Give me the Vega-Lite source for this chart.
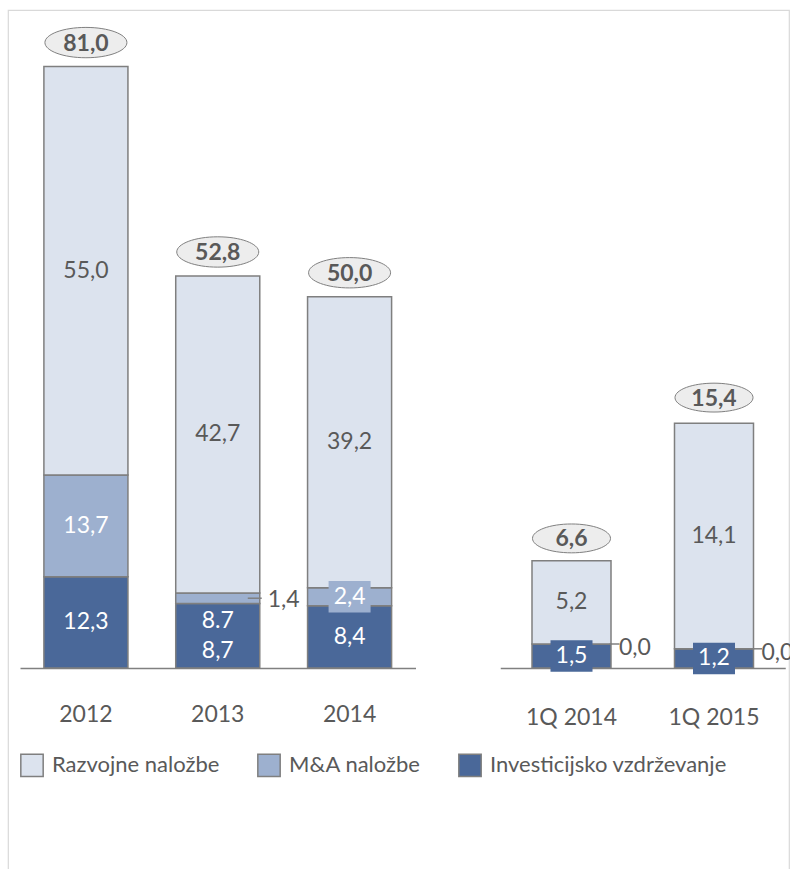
{
  "$schema": "https://vega.github.io/schema/vega-lite/v6.json",
  "width": 781,
  "height": 870,
  "padding": {"left": 8, "top": 10, "right": 0, "bottom": 0},
  "autosize": {"type": "pad"},
  "background": "white",
  "config": {
    "view": {"stroke": "#D9D9D9", "strokeWidth": 1.2},
    "font": "Lato",
    "text": {"font": "Lato"}
  },
  "datasets": {
    "segL": [
      {"period": "2012", "series": "Investicijsko vzdrževanje", "value": 12.3, "label": "12,3"},
      {"period": "2012", "series": "M&A naložbe", "value": 13.7, "label": "13,7"},
      {"period": "2012", "series": "Razvojne naložbe", "value": 55.0, "label": "55,0"},
      {"period": "2013", "series": "Investicijsko vzdrževanje", "value": 8.7, "label": "8.7\n8,7"},
      {"period": "2013", "series": "M&A naložbe", "value": 1.4, "label": "1,4"},
      {"period": "2013", "series": "Razvojne naložbe", "value": 42.7, "label": "42,7"},
      {"period": "2014", "series": "Investicijsko vzdrževanje", "value": 8.4, "label": "8,4"},
      {"period": "2014", "series": "M&A naložbe", "value": 2.4, "label": "2,4"},
      {"period": "2014", "series": "Razvojne naložbe", "value": 39.2, "label": "39,2"}
    ],
    "segR": [
      {"period": "1Q 2014", "series": "Investicijsko vzdrževanje", "value": 1.5, "label": "1,5"},
      {"period": "1Q 2014", "series": "M&A naložbe", "value": 0.0, "label": "0,0"},
      {"period": "1Q 2014", "series": "Razvojne naložbe", "value": 5.2, "label": "5,2"},
      {"period": "1Q 2015", "series": "Investicijsko vzdrževanje", "value": 1.2, "label": "1,2"},
      {"period": "1Q 2015", "series": "M&A naložbe", "value": 0.0, "label": "0,0"},
      {"period": "1Q 2015", "series": "Razvojne naložbe", "value": 14.1, "label": "14,1"}
    ],
    "totL": [
      {"period": "2012", "total": 81.0, "label": "81,0"},
      {"period": "2013", "total": 52.8, "label": "52,8"},
      {"period": "2014", "total": 50.0, "label": "50,0"}
    ],
    "totR": [
      {"period": "1Q 2014", "total": 6.6, "label": "6,6"},
      {"period": "1Q 2015", "total": 15.4, "label": "15,4"}
    ]
  },
  "layer": [
    {
      "data": {"name": "segL"},
      "encoding": {
        "x": {
          "field": "period", "type": "nominal", "sort": null,
          "scale": {"range": [12, 407.5], "paddingInner": 0.3625, "paddingOuter": 0.18125},
          "axis": {"orient": "bottom", "offset": -212, "domain": true, "domainColor": "#808080", "domainWidth": 1.5, "ticks": false, "labelPadding": 35, "labelFontSize": 23, "labelColor": "#595959", "labelFont": "Lato", "title": null, "labelAngle": 0, "grid": false}
        }
      },
      "layer": [
        {
          "mark": {"type": "bar", "stroke": "#7F7F7F", "strokeWidth": 1.5},
          "encoding": {
            "y": {"field": "value", "type": "quantitative", "stack": "zero", "scale": {"domain": [-28.55, 88.62], "nice": false, "zero": false}, "axis": null},
            "order": {"field": "series", "sort": "ascending"},
            "color": {
              "field": "series", "type": "nominal",
              "scale": {"domain": ["Razvojne naložbe", "M&A naložbe", "Investicijsko vzdrževanje"], "range": ["#DCE3EE", "#9DB0CF", "#4A6899"]},
              "legend": {"orient": "none", "legendX": 12, "legendY": 743, "direction": "horizontal", "title": null, "symbolType": "square", "symbolSize": 500, "symbolStrokeColor": "#7F7F7F", "symbolStrokeWidth": 1.5, "labelFontSize": 22, "labelColor": "#595959", "labelFont": "Lato", "labelLimit": 0, "columnPadding": 34, "labelOffset": 8, "padding": 0}
            }
          }
        },
        {
          "mark": {"type": "point", "shape": "M -1 -0.75 H 1 V 0.75 H -1 Z", "size": 1764, "filled": true, "strokeWidth": 0},
          "encoding": {
            "y": {"field": "value", "type": "quantitative", "stack": "zero", "bandPosition": 0.5},
            "order": {"field": "series", "sort": "ascending"},
            "fill": {"condition": {"test": "datum.series === 'M&A naložbe'", "value": "#9DB0CF"}, "value": "#4A6899"},
            "opacity": {"condition": {"test": "(datum.series === 'M&A naložbe' && datum.value >= 2 && datum.value < 3) || (datum.series === 'Investicijsko vzdrževanje' && datum.value < 2)", "value": 1}, "value": 0}
          }
        },
        {
          "mark": {"type": "text", "fontSize": 23, "baseline": "middle", "align": "center"},
          "encoding": {
            "y": {"field": "value", "type": "quantitative", "stack": "zero", "bandPosition": 0.5},
            "order": {"field": "series", "sort": "ascending"},
            "text": {"condition": {"test": "!(datum.series === 'M&A naložbe' && datum.value < 2) && indexof(datum.label, '\\n') < 0", "field": "label"}, "value": ""},
            "color": {"condition": {"test": "datum.series === 'Razvojne naložbe'", "value": "#595959"}, "value": "#FFFFFF"}
          }
        },
        {
          "mark": {"type": "text", "fontSize": 23, "baseline": "middle", "align": "center", "lineBreak": "\n", "lineHeight": 30, "yOffset": -15, "color": "#FFFFFF"},
          "encoding": {
            "y": {"field": "value", "type": "quantitative", "stack": "zero", "bandPosition": 0.5},
            "order": {"field": "series", "sort": "ascending"},
            "text": {"condition": {"test": "indexof(datum.label, '\\n') >= 0", "field": "label"}, "value": ""}
          }
        },
        {
          "mark": {"type": "tick", "orient": "horizontal", "size": 14, "thickness": 1.5, "xOffset": 37, "color": "#808080"},
          "encoding": {
            "y": {"field": "value", "type": "quantitative", "stack": "zero", "bandPosition": 0.5},
            "order": {"field": "series", "sort": "ascending"},
            "opacity": {"condition": {"test": "datum.series === 'M&A naložbe' && datum.value < 2", "value": 1}, "value": 0}
          }
        },
        {
          "mark": {"type": "text", "fontSize": 23, "baseline": "middle", "align": "left", "dx": 8, "dy": 2, "color": "#595959"},
          "encoding": {
            "x": {"field": "period", "type": "nominal", "sort": null, "bandPosition": 1},
            "y": {"field": "value", "type": "quantitative", "stack": "zero", "bandPosition": 0.5},
            "order": {"field": "series", "sort": "ascending"},
            "text": {"condition": {"test": "datum.series === 'M&A naložbe' && datum.value < 2", "field": "label"}, "value": ""}
          }
        },
        {
          "data": {"name": "totL"},
          "mark": {"type": "point", "shape": "M -1 0 A 1 0.37 0 1 0 1 0 A 1 0.37 0 1 0 -1 0 Z", "size": 6724, "filled": true, "fill": "#EDEDED", "stroke": "#808080", "strokeWidth": 1, "opacity": 1, "yOffset": -24},
          "encoding": {
            "y": {"field": "total", "type": "quantitative"}
          }
        },
        {
          "data": {"name": "totL"},
          "mark": {"type": "text", "fontSize": 23, "fontWeight": "bold", "baseline": "middle", "align": "center", "color": "#595959", "yOffset": -23},
          "encoding": {
            "y": {"field": "total", "type": "quantitative"},
            "text": {"field": "label"}
          }
        }
      ]
    },
    {
      "data": {"name": "segR"},
      "encoding": {
        "x": {
          "field": "period", "type": "nominal", "sort": null,
          "scale": {"range": [492.25, 777.25], "paddingInner": 0.4456, "paddingOuter": 0.2228},
          "axis": {"orient": "bottom", "offset": -212, "domain": true, "domainColor": "#808080", "domainWidth": 1.5, "ticks": false, "labelPadding": 38, "labelFontSize": 23, "labelColor": "#595959", "labelFont": "Lato", "title": null, "labelAngle": 0, "grid": false}
        }
      },
      "layer": [
        {
          "mark": {"type": "bar", "stroke": "#7F7F7F", "strokeWidth": 1.5},
          "encoding": {
            "y": {"field": "value", "type": "quantitative", "stack": "zero", "scale": {"domain": [-13.25, 41.125], "nice": false, "zero": false}, "axis": null},
            "order": {"field": "series", "sort": "ascending"},
            "color": {"field": "series", "type": "nominal"}
          }
        },
        {
          "mark": {"type": "point", "shape": "M -1 -0.75 H 1 V 0.75 H -1 Z", "size": 1764, "filled": true, "strokeWidth": 0},
          "encoding": {
            "y": {"field": "value", "type": "quantitative", "stack": "zero", "bandPosition": 0.5},
            "order": {"field": "series", "sort": "ascending"},
            "fill": {"condition": {"test": "datum.series === 'M&A naložbe'", "value": "#9DB0CF"}, "value": "#4A6899"},
            "opacity": {"condition": {"test": "(datum.series === 'M&A naložbe' && datum.value >= 2 && datum.value < 3) || (datum.series === 'Investicijsko vzdrževanje' && datum.value < 2)", "value": 1}, "value": 0}
          }
        },
        {
          "mark": {"type": "text", "fontSize": 23, "baseline": "middle", "align": "center"},
          "encoding": {
            "y": {"field": "value", "type": "quantitative", "stack": "zero", "bandPosition": 0.5},
            "order": {"field": "series", "sort": "ascending"},
            "text": {"condition": {"test": "!(datum.series === 'M&A naložbe' && datum.value < 2)", "field": "label"}, "value": ""},
            "color": {"condition": {"test": "datum.series === 'Razvojne naložbe'", "value": "#595959"}, "value": "#FFFFFF"}
          }
        },
        {
          "mark": {"type": "tick", "orient": "horizontal", "size": 10, "thickness": 1.5, "xOffset": 43, "color": "#808080"},
          "encoding": {
            "y": {"field": "value", "type": "quantitative", "stack": "zero", "bandPosition": 0.5},
            "order": {"field": "series", "sort": "ascending"},
            "opacity": {"condition": {"test": "datum.series === 'M&A naložbe' && datum.value < 2", "value": 1}, "value": 0}
          }
        },
        {
          "mark": {"type": "text", "fontSize": 23, "baseline": "middle", "align": "left", "dx": 8, "dy": 4, "color": "#595959"},
          "encoding": {
            "x": {"field": "period", "type": "nominal", "sort": null, "bandPosition": 1},
            "y": {"field": "value", "type": "quantitative", "stack": "zero", "bandPosition": 0.5},
            "order": {"field": "series", "sort": "ascending"},
            "text": {"condition": {"test": "datum.series === 'M&A naložbe' && datum.value < 2", "field": "label"}, "value": ""}
          }
        },
        {
          "data": {"name": "totR"},
          "mark": {"type": "point", "shape": "M -1 0 A 1 0.37 0 1 0 1 0 A 1 0.37 0 1 0 -1 0 Z", "size": 6084, "filled": true, "fill": "#EDEDED", "stroke": "#808080", "strokeWidth": 1, "opacity": 1, "yOffset": -24},
          "encoding": {
            "y": {"field": "total", "type": "quantitative"}
          }
        },
        {
          "data": {"name": "totR"},
          "mark": {"type": "text", "fontSize": 23, "fontWeight": "bold", "baseline": "middle", "align": "center", "color": "#595959", "yOffset": -23},
          "encoding": {
            "y": {"field": "total", "type": "quantitative"},
            "text": {"field": "label"}
          }
        }
      ]
    }
  ],
  "resolve": {"scale": {"x": "independent", "y": "independent"}}
}
